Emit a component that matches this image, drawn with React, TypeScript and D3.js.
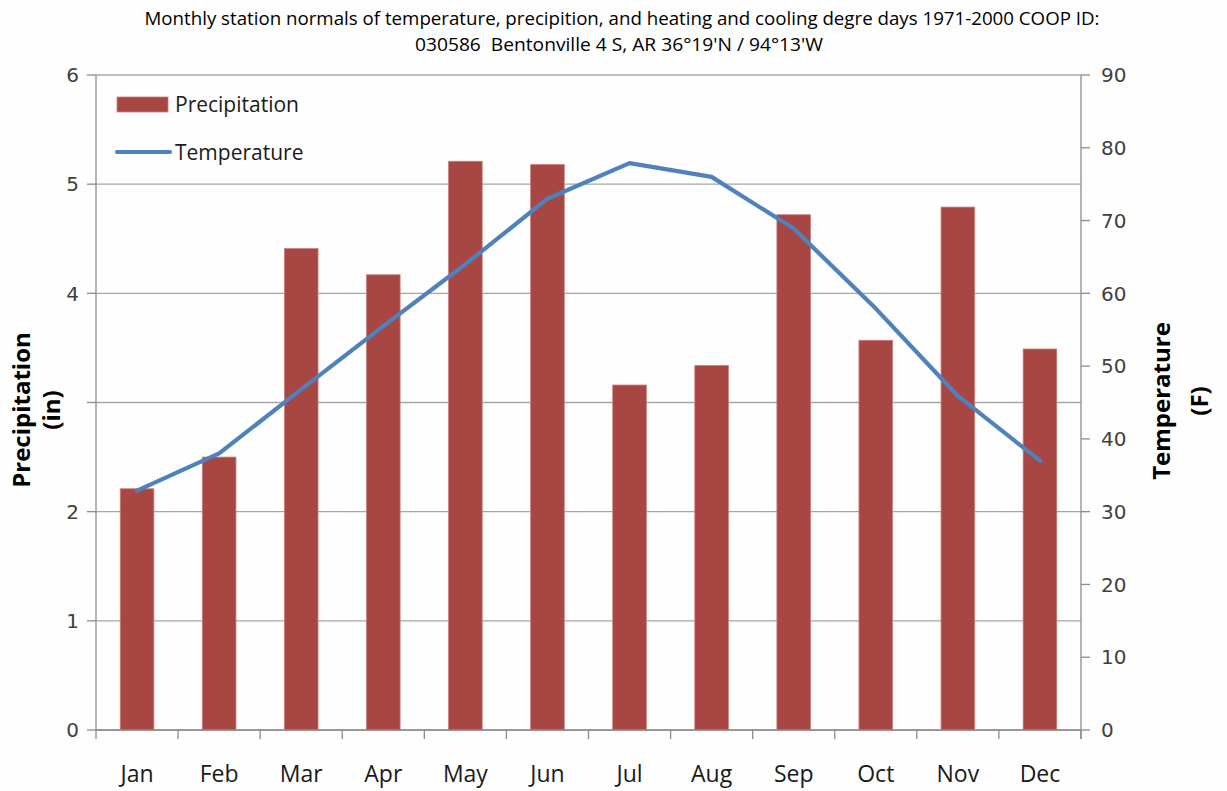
import React from "react";
import * as d3 from "d3";

const months = ["Jan", "Feb", "Mar", "Apr", "May", "Jun", "Jul", "Aug", "Sep", "Oct", "Nov", "Dec"];
const precipitation = [2.21, 2.5, 4.41, 4.17, 5.21, 5.18, 3.16, 3.34, 4.72, 3.57, 4.79, 3.49];
const temperature = [32.9, 38.0, 46.8, 55.5, 64.0, 73.0, 77.9, 76.0, 68.9, 57.9, 45.9, 37.0];
// the "3" label is not shown in the original
const leftTicks = [0, 1, 2, 3, 4, 5, 6];
const leftTickLabels = ["0", "1", "2", "", "4", "5", "6"];
const rightTicks = [0, 10, 20, 30, 40, 50, 60, 70, 80, 90];

const titleLine1 =
  "Monthly station normals of temperature, precipition, and heating and cooling degre days 1971-2000 COOP ID:";
const titleLine2 = "030586\u00a0 Bentonville 4 S, AR 36°19'N / 94°13'W";

const W = 1227;
const H = 791;
const plot = { left: 96, right: 1081, top: 75, bottom: 730 };

const narrow = "'Liberation Sans Narrow', 'Open Sans', sans-serif";
const sans = "'Open Sans', 'Noto Sans', sans-serif";
const wide = "'DejaVu Sans', Verdana, sans-serif";

const App = () => {
  const x = d3.scaleBand().domain(months).range([plot.left, plot.right]);
  const yL = d3.scaleLinear().domain([0, 6]).range([plot.bottom, plot.top]);
  const yR = d3.scaleLinear().domain([0, 90]).range([plot.bottom, plot.top]);

  const barW = x.bandwidth() * 0.41;
  const cx = (m: string) => (x(m) as number) + x.bandwidth() / 2;

  const line = d3
    .line<number>()
    .x((_, i) => cx(months[i]))
    .y((d) => yR(d));

  const axisGray = "#8c8c8c";

  return (
    <svg
      width={W}
      height={H}
      style={{ position: "absolute", left: 0, top: 0, background: "#fefefe" }}
    >
      {/* title */}
      <text x={622} y={25} textAnchor="middle" fontFamily={narrow} fontSize={19}
        textLength={955} lengthAdjust="spacingAndGlyphs" fill="#000">
        {titleLine1}
      </text>
      <text x={619} y={51} textAnchor="middle" fontFamily={narrow} fontSize={19}
        textLength={408} lengthAdjust="spacingAndGlyphs" fill="#000">
        {titleLine2}
      </text>

      {/* gridlines */}
      {leftTicks.map((t) => (
        <line key={"g" + t} x1={plot.left} x2={plot.right} y1={yL(t)} y2={yL(t)}
          stroke="#a6a6a6" strokeWidth={1.3} />
      ))}

      {/* bars */}
      {precipitation.map((v, i) => (
        <rect key={"b" + i} x={cx(months[i]) - barW / 2} y={yL(v)} width={barW}
          height={yL(0) - yL(v)} fill="#a84643" stroke="#c9807e" strokeWidth={0.8} />
      ))}

      {/* temperature line */}
      <path d={line(temperature) || ""} fill="none" stroke="#4f81bd" strokeWidth={4.2}
        strokeLinejoin="round" strokeLinecap="round" />

      {/* left axis */}
      <line x1={plot.left} x2={plot.left} y1={plot.top} y2={plot.bottom + 9} stroke={axisGray} strokeWidth={1.3} />
      {leftTicks.map((t, i) => (
        <g key={"l" + t}>
          <line x1={plot.left - 9} x2={plot.left} y1={yL(t)} y2={yL(t)} stroke={axisGray} strokeWidth={1.3} />
          <text x={79} y={yL(t)} dy="0.36em" textAnchor="end" fontFamily={wide} fontSize={20} fill="#404040">
            {leftTickLabels[i]}
          </text>
        </g>
      ))}

      {/* right axis */}
      <line x1={plot.right} x2={plot.right} y1={plot.top} y2={plot.bottom + 9} stroke={axisGray} strokeWidth={1.3} />
      {rightTicks.map((t) => (
        <g key={"r" + t}>
          <line x1={plot.right} x2={plot.right + 9} y1={yR(t)} y2={yR(t)} stroke={axisGray} strokeWidth={1.3} />
          <text x={1101} y={yR(t)} dy="0.36em" textAnchor="start" fontFamily={wide} fontSize={20} fill="#404040">
            {t}
          </text>
        </g>
      ))}

      {/* bottom axis */}
      <line x1={plot.left} x2={plot.right} y1={plot.bottom} y2={plot.bottom} stroke={axisGray} strokeWidth={1.3} />
      {months.map((m) => (
        <g key={"m" + m}>
          <line x1={(x(m) as number) + x.bandwidth()} x2={(x(m) as number) + x.bandwidth()}
            y1={plot.bottom} y2={plot.bottom + 9} stroke={axisGray} strokeWidth={1.3} />
          <text x={cx(m)} y={782} textAnchor="middle" fontFamily={narrow} fontSize={23} fill="#1a1a1a">
            {m}
          </text>
        </g>
      ))}

      {/* axis titles */}
      <g transform="translate(22,410) rotate(-90)">
        <text textAnchor="middle" dy="0.35em" fontFamily={sans} fontWeight="bold" fontSize={24} fill="#000">
          Precipitation
        </text>
      </g>
      <g transform="translate(52,410) rotate(-90)">
        <text textAnchor="middle" dy="0.35em" fontFamily={sans} fontWeight="bold" fontSize={24} fill="#000">
          (in)
        </text>
      </g>
      <g transform="translate(1162,401) rotate(-90)">
        <text textAnchor="middle" dy="0.35em" fontFamily={sans} fontWeight="bold" fontSize={24} fill="#000">
          Temperature
        </text>
      </g>
      <g transform="translate(1200,401) rotate(-90)">
        <text textAnchor="middle" dy="0.35em" fontFamily={sans} fontWeight="bold" fontSize={24} fill="#000">
          (F)
        </text>
      </g>

      {/* legend */}
      <rect x={117} y={97} width={51} height={15} fill="#a84643" stroke="#c9807e" strokeWidth={0.8} />
      <text x={175} y={104} dy="0.36em" fontFamily={sans} fontSize={21} fill="#1a1a1a">
        Precipitation
      </text>
      <line x1={117} x2={170} y1={152} y2={152} stroke="#4f81bd" strokeWidth={4.2} strokeLinecap="round" />
      <text x={175} y={152} dy="0.36em" fontFamily={sans} fontSize={21} fill="#1a1a1a">
        Temperature
      </text>
    </svg>
  );
};

export default App;
